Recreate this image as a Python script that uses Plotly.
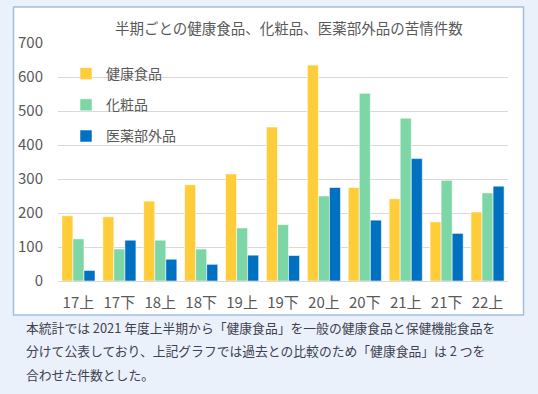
import plotly.graph_objects as go

categories = ["17上", "17下", "18上", "18下", "19上", "19下", "20上", "20下", "21上", "21下", "22上"]
health_food = [192, 189, 235, 283, 315, 453, 635, 275, 242, 174, 203]
cosmetics = [124, 94, 120, 94, 156, 166, 250, 552, 479, 296, 259]
quasi_drugs = [31, 120, 64, 49, 76, 75, 275, 179, 360, 140, 279]
series_names = ["健康食品", "化粧品", "医薬部外品"]
title_text = "半期ごとの健康食品、化粧品、医薬部外品の苦情件数"
note_lines = [
    "本統計では 2021 年度上半期から「健康食品」を一般の健康食品と保健機能食品を",
    "分けて公表しており、上記グラフでは過去との比較のため「健康食品」は 2 つを",
    "合わせた件数とした。",
]

FONT = "Noto Sans CJK JP"
colors = ["#FFCD3A", "#7DD6A5", "#0070C0"]

W, H = 538, 394
L, R, T, B = 58, 30, 43, 113
pw, ph = W - L - R, H - T - B

def px_x(x):
    return (x - L) / pw

def px_y(y):
    return (H - B - y) / ph

fig = go.Figure()
for name, vals, c in zip(series_names, [health_food, cosmetics, quasi_drugs], colors):
    fig.add_trace(go.Bar(
        x=categories, y=vals, name=name, legendgroup=name,
        marker=dict(color=c, line=dict(color="rgba(255,255,255,0.55)", width=1)),
    ))

fig.add_shape(type="rect", xref="paper", yref="paper",
              x0=px_x(13.5), x1=px_x(523.5), y0=px_y(315), y1=px_y(7),
              fillcolor="white", line=dict(color="#A3BEDF", width=1.5), layer="below")

annotations = [dict(text=title_text, xref="paper", yref="paper", x=px_x(289), y=px_y(27),
                    xanchor="center", yanchor="middle", showarrow=False,
                    font=dict(family=FONT, size=14.5, color="#595959"))]
for i, line in enumerate(note_lines):
    annotations.append(dict(text=line, xref="paper", yref="paper", x=px_x(24), y=px_y(327 + 23.5 * i),
                            xanchor="left", yanchor="middle", showarrow=False,
                            font=dict(family=FONT, size=12.8, color="#404050")))

fig.update_layout(
    width=W, height=H,
    margin=dict(l=L, r=R, t=T, b=B, pad=0),
    paper_bgcolor="#EAF1FA", plot_bgcolor="rgba(0,0,0,0)",
    barmode="group", bargap=0.19, bargroupgap=0,
    font=dict(family=FONT, color="#595959"),
    showlegend=True,
    legend=dict(x=px_x(66), y=px_y(58), xanchor="left", yanchor="top",
                bgcolor="rgba(0,0,0,0)", font=dict(family=FONT, size=14, color="#595959"),
                tracegroupgap=10, itemwidth=30),
    annotations=annotations,
)
fig.update_yaxes(range=[0, 700], dtick=100, showgrid=True, gridcolor="#D9D9D9", gridwidth=1,
                 zeroline=False, showline=False, ticks="",
                 tickfont=dict(family=FONT, size=15, color="#595959"), ticklabelstandoff=14)
fig.update_xaxes(showgrid=False, showline=True, linecolor="#D9D9D9", linewidth=1, ticks="",
                 tickfont=dict(family=FONT, size=15, color="#595959"), ticklabelstandoff=8)

fig.write_html("out.html", config={"displayModeBar": False},
               post_script="document.body.style.margin='0';document.body.style.background='#EAF1FA';")
